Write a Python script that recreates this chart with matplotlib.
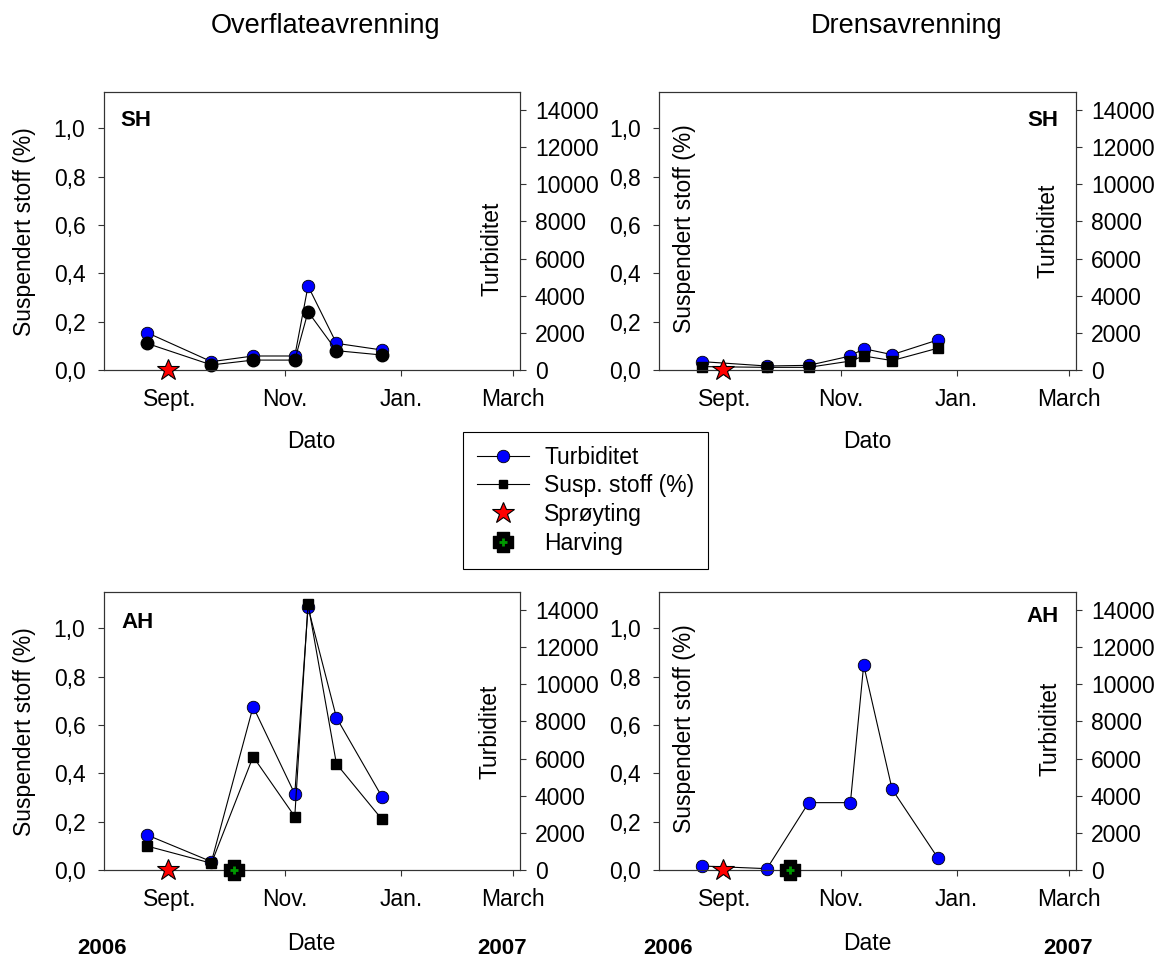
from datetime import datetime

import matplotlib
matplotlib.use("Agg")
import matplotlib.pyplot as plt
from matplotlib.lines import Line2D
from matplotlib.ticker import FuncFormatter

plt.rcParams['font.family'] = ['Liberation Sans', 'DejaVu Sans']

# sampling dates (same for all four stations)
sample_dates = [datetime(2006, 8, 20), datetime(2006, 9, 23), datetime(2006, 10, 15),
                datetime(2006, 11, 6), datetime(2006, 11, 13), datetime(2006, 11, 28),
                datetime(2006, 12, 22)]
spray_date = datetime(2006, 8, 31)
harrow_date = datetime(2006, 10, 5)

month_ticks = [datetime(2006, 9, 1), datetime(2006, 11, 1), datetime(2007, 1, 1), datetime(2007, 3, 1)]
month_labels = ['Sept.', 'Nov.', 'Jan.', 'March']

# surface runoff, SH
turb_surface_sh = [2010, 449, 754, 754, 4523, 1436, 1077]
susp_surface_sh = [0.110, 0.021, 0.041, 0.041, 0.241, 0.080, 0.062]
# drain runoff, SH
turb_drain_sh = [449, 215, 251, 754, 1149, 826, 1615]
susp_drain_sh = [0.014, 0.011, 0.011, 0.037, 0.058, 0.039, 0.090]
# surface runoff, AH
turb_surface_ah = [1885, 449, 8795, 4092, 14144, 8203, 3949]
susp_surface_ah = [0.099, 0.028, 0.469, 0.221, 1.101, 0.439, 0.210]
# drain runoff, AH (no suspended matter measured)
turb_drain_ah = [215, 72, 3626, 3626, 11038, 4344, 664]

W, H = 1158, 958
FS = 16.5
BLUE = '#0000ff'
SPINE = '#333333'

# thick plus used for harrowing
PLUS_VERTS = [(-0.3, -0.5), (0.3, -0.5), (0.3, -0.3), (0.5, -0.3), (0.5, 0.3), (0.3, 0.3),
              (0.3, 0.5), (-0.3, 0.5), (-0.3, 0.3), (-0.5, 0.3), (-0.5, -0.3), (-0.3, -0.3),
              (-0.3, -0.5)]


def px_rect(x0, y0, x1, y1):
    return [x0 / W, 1 - y1 / H, (x1 - x0) / W, (y1 - y0) / H]


def ftext(x, y, s, **kw):
    fig.text(x / W, 1 - y / H, s, **kw)


def comma(v, pos):
    return f'{v:.1f}'.replace('.', ',')


def make_panel(rect, turb, susp, susp_marker, harrow):
    ax = fig.add_axes(rect)
    ax2 = ax.twinx()
    ax.set_zorder(ax2.get_zorder() + 1)
    ax.patch.set_visible(False)

    ax.set_xlim(datetime(2006, 7, 28), datetime(2007, 3, 4, 17))
    ax.set_ylim(0, 1.149)
    ax2.set_ylim(0, 14950)
    ax.set_xticks(month_ticks)
    ax.set_xticklabels(month_labels)
    ax.set_yticks([0, 0.2, 0.4, 0.6, 0.8, 1.0])
    ax.yaxis.set_major_formatter(FuncFormatter(comma))
    ax2.set_yticks(range(0, 14001, 2000))

    for a in (ax, ax2):
        for sp in a.spines.values():
            sp.set_color(SPINE)
            sp.set_linewidth(0.8)
    ax.tick_params(axis='y', direction='out', length=4, width=0.8, color=SPINE, pad=9, labelsize=FS)
    ax.tick_params(axis='x', direction='out', length=4, width=0.8, color=SPINE, pad=9, labelsize=FS)
    ax2.tick_params(axis='y', direction='out', length=4, width=0.8, color=SPINE, pad=7, labelsize=FS)

    ax2.plot(sample_dates, turb, '-o', color='k', lw=0.8, mfc=BLUE, mec='k', mew=0.6, ms=9,
             clip_on=False)
    if susp is not None:
        ax.plot(sample_dates, susp, '-', marker=susp_marker, color='k', lw=0.8, mfc='k', mec='k',
                ms=9 if susp_marker == 'o' else 7.5, clip_on=False)

    ax.plot([spray_date], [0], ls='none', marker='*', ms=16.5, mfc='red', mec='k', mew=0.8,
            clip_on=False, zorder=10)
    if harrow:
        ax.plot([harrow_date], [0], ls='none', marker=PLUS_VERTS, ms=14, mfc='k', mec='k',
                clip_on=False, zorder=10)
        ax.plot([harrow_date], [0], ls='none', marker='+', ms=6, mec='#009900', mew=2,
                clip_on=False, zorder=11)
    return ax, ax2


fig = plt.figure(figsize=(W / 100, H / 100), dpi=100)

make_panel(px_rect(103.5, 92.3, 519.6, 370), turb_surface_sh, susp_surface_sh, 'o', False)
make_panel(px_rect(658.8, 92.3, 1075.6, 370), turb_drain_sh, susp_drain_sh, 's', False)
make_panel(px_rect(103.5, 592.3, 519.6, 870), turb_surface_ah, susp_surface_ah, 's', True)
make_panel(px_rect(658.8, 592.3, 1075.6, 870), turb_drain_ah, None, 's', True)

# column headings
ftext(326, 26, 'Overflateavrenning', fontsize=19.5, ha='center', va='center')
ftext(907, 26, 'Drensavrenning', fontsize=19.5, ha='center', va='center')

# station tags
ftext(120, 121, 'SH', fontsize=16, fontweight='bold', ha='left', va='center')
ftext(1058, 121, 'SH', fontsize=16, fontweight='bold', ha='right', va='center')
ftext(121, 622, 'AH', fontsize=16, fontweight='bold', ha='left', va='center')
ftext(1059, 616, 'AH', fontsize=16, fontweight='bold', ha='right', va='center')

# axis titles
for x, y in [(25, 231.7), (684, 228.3), (25, 731.7), (684, 728.3)]:
    ftext(x, y, 'Suspendert stoff (%)', fontsize=FS, rotation=90, ha='center', va='center')
for x, y in [(492, 249), (1048, 230.8), (490, 731.7), (1050, 729)]:
    ftext(x, y, 'Turbiditet', fontsize=FS, rotation=90, ha='center', va='center')
ftext(311.5, 442, 'Dato', fontsize=FS, ha='center', va='center')
ftext(867, 442, 'Dato', fontsize=FS, ha='center', va='center')
ftext(311.5, 943, 'Date', fontsize=FS, ha='center', va='center')
ftext(867, 943, 'Date', fontsize=FS, ha='center', va='center')

# year markers under the lower panels
for x, s in [(102, '2006'), (502, '2007'), (668, '2006'), (1068, '2007')]:
    ftext(x, 948, s, fontsize=16, fontweight='bold', ha='center', va='center')

handles = [
    Line2D([], [], color='k', lw=0.8, marker='o', mfc=BLUE, mec='k', mew=0.6, ms=9),
    Line2D([], [], color='k', lw=0.8, marker='s', mfc='k', mec='k', ms=6),
    Line2D([], [], ls='none', marker='*', mfc='red', mec='k', mew=0.8, ms=16.5),
    (Line2D([], [], ls='none', marker=PLUS_VERTS, mfc='k', mec='k', ms=14),
     Line2D([], [], ls='none', marker='+', mec='#009900', mew=2, ms=6)),
]
labels = ['Turbiditet', 'Susp. stoff (%)', 'Sprøyting', 'Harving']
leg = fig.legend(handles, labels, loc='upper left', bbox_to_anchor=(463 / W, 1 - 432 / H),
                 frameon=True, fancybox=False, edgecolor='k', framealpha=1, fontsize=FS,
                 handlelength=2.3, handletextpad=0.65, borderpad=0.6, labelspacing=0.25,
                 borderaxespad=0)
leg.get_frame().set_linewidth(0.8)

fig.savefig('out.png', dpi=100)
